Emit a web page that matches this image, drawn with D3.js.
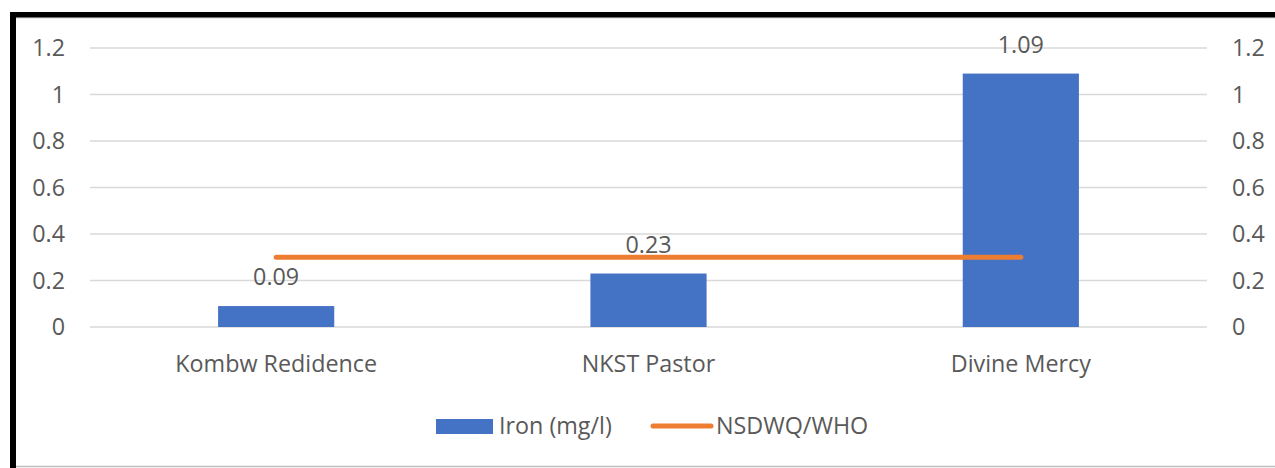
<!DOCTYPE html>
<html>
<head>
<meta charset="utf-8">
<script src="https://cdn.jsdelivr.net/npm/d3@7"></script>
<style>
  html, body { margin: 0; padding: 0; background: #fff; }
  svg text { font-family: "Open Sans", Lato, sans-serif; fill: #595959; }
</style>
</head>
<body>
<svg id="chart" width="1275" height="468"></svg>
<script>
const categories = ["Kombw Redidence", "NKST Pastor", "Divine Mercy"];
const ironValues = [0.09, 0.23, 1.09];
const ironLabels = ["0.09", "0.23", "1.09"];
const standardValues = [0.3, 0.3, 0.3];
const yTicks = [0, 0.2, 0.4, 0.6, 0.8, 1, 1.2];
const seriesNames = ["Iron (mg/l)", "NSDWQ/WHO"];

(function () {
const svg = d3.select("#chart");
const W = 1275, H = 468;
const pLeft = 90, pRight = 1207, pTop = 48, pBottom = 327;
const blue = "#4472C4", orange = "#ED7D31";
const fs = 23.3;

// frame
svg.append("rect").attr("x", 0).attr("y", 0).attr("width", W).attr("height", H).attr("fill", "#fff");
svg.append("line").attr("x1", 16).attr("x2", W).attr("y1", 466.5).attr("y2", 466.5)
  .attr("stroke", "#bfbfbf").attr("stroke-width", 1.5);
svg.append("line").attr("x1", 16).attr("x2", W).attr("y1", 18).attr("y2", 18)
  .attr("stroke", "#d0d0d0").attr("stroke-width", 1);
svg.append("rect").attr("x", 10).attr("y", 12).attr("width", W - 10).attr("height", 5.5).attr("fill", "#000");
svg.append("rect").attr("x", 10).attr("y", 12).attr("width", 6).attr("height", H - 12).attr("fill", "#000");

const x = d3.scaleBand().domain(categories).range([pLeft, pRight]).padding(0);
const y = d3.scaleLinear().domain([0, 1.2]).range([pBottom, pTop]);

// gridlines
svg.append("g").selectAll("line").data(yTicks).join("line")
  .attr("x1", pLeft).attr("x2", pRight)
  .attr("y1", d => y(d)).attr("y2", d => y(d))
  .attr("stroke", "#d9d9d9").attr("stroke-width", 1.5);

// left axis labels
const fmt = d => d3.format("~g")(d);
svg.append("g").selectAll("text").data(yTicks).join("text")
  .attr("x", 65).attr("y", d => y(d)).attr("dy", "0.35em")
  .attr("text-anchor", "end").attr("font-size", fs).text(fmt);
// right axis labels
svg.append("g").selectAll("text").data(yTicks).join("text")
  .attr("x", 1232).attr("y", d => y(d)).attr("dy", "0.35em")
  .attr("text-anchor", "start").attr("font-size", fs).text(fmt);

// bars
const bw = x.bandwidth() * 0.312;
svg.append("g").selectAll("rect").data(ironValues).join("rect")
  .attr("x", (d, i) => x(categories[i]) + x.bandwidth() / 2 - bw / 2)
  .attr("width", bw)
  .attr("y", d => y(d))
  .attr("height", d => y(0) - y(d))
  .attr("fill", blue);

// data labels
svg.append("g").selectAll("text").data(ironValues).join("text")
  .attr("x", (d, i) => x(categories[i]) + x.bandwidth() / 2)
  .attr("y", d => y(d) - 21)
  .attr("text-anchor", "middle").attr("font-size", fs)
  .text((d, i) => ironLabels[i]);

// standard line
const line = d3.line()
  .x((d, i) => x(categories[i]) + x.bandwidth() / 2)
  .y(d => y(d));
svg.append("path").datum(standardValues)
  .attr("d", line).attr("fill", "none")
  .attr("stroke", orange).attr("stroke-width", 5).attr("stroke-linecap", "round");

// category labels
svg.append("g").selectAll("text").data(categories).join("text")
  .attr("x", d => x(d) + x.bandwidth() / 2).attr("y", 364).attr("dy", "0.35em")
  .attr("text-anchor", "middle").attr("font-size", fs).text(d => d);

// legend
const lg = svg.append("g");
lg.append("rect").attr("x", 436).attr("y", 419).attr("width", 57).attr("height", 15).attr("fill", blue);
lg.append("text").attr("x", 499).attr("y", 426).attr("dy", "0.35em").attr("font-size", fs).text(seriesNames[0]);
lg.append("line").attr("x1", 653).attr("x2", 711).attr("y1", 426).attr("y2", 426)
  .attr("stroke", orange).attr("stroke-width", 5).attr("stroke-linecap", "round");
lg.append("text").attr("x", 716).attr("y", 426).attr("dy", "0.35em").attr("font-size", fs).text(seriesNames[1]);
})();
</script>
</body>
</html>
